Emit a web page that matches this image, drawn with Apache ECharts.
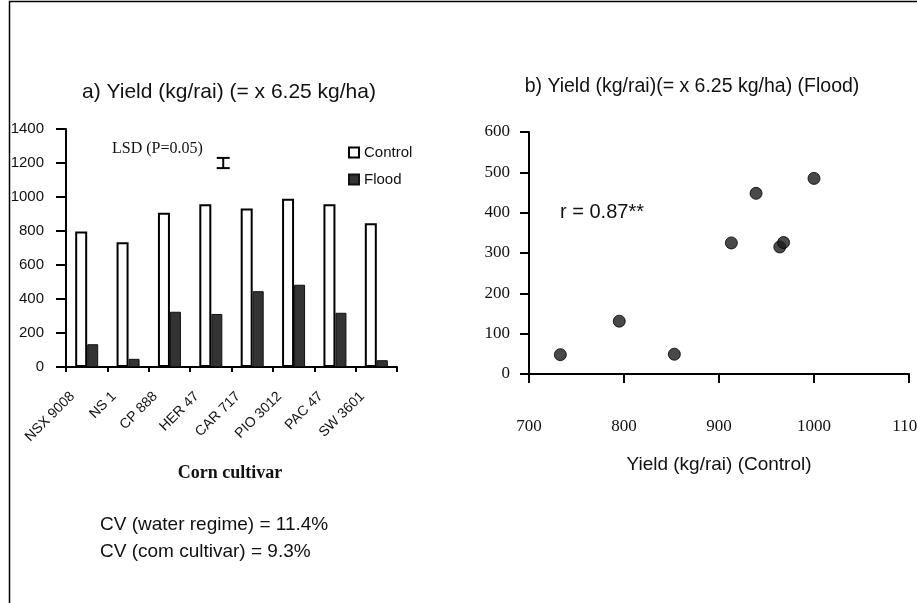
<!DOCTYPE html>
<html>
<head>
<meta charset="utf-8">
<script src="https://cdn.jsdelivr.net/npm/echarts@6/dist/echarts.min.js"></script>
<style>
html,body{margin:0;padding:0;background:#fff;}
#c{width:917px;height:603px;}
</style>
</head>
<body>
<div id="c"></div>
<script>
// ---- data ----
const categories = ['NSX 9008', 'NS 1', 'CP 888', 'HER 47', 'CAR 717', 'PIO 3012', 'PAC 47', 'SW 3601'];
const controlYield = [797, 734, 908, 958, 933, 990, 958, 845];
const floodYield = [134, 48, 325, 312, 446, 484, 319, 40];
const scatterControl = [733, 795, 853, 913, 939, 964, 968, 1000];
const scatterFlood = [48, 131, 49, 325, 448, 315, 326, 485];
const yTicksA = [0, 200, 400, 600, 800, 1000, 1200, 1400];
const yTicksB = [0, 100, 200, 300, 400, 500, 600];
const xTicksB = [700, 800, 900, 1000, 1100];
const lsdValue = 60;      // LSD (P=0.05)
const lsdCenter = 1200;   // level where LSD bar is drawn
const lsdPos = 3.8;       // category-space position of the LSD bar

const SANS = '"Liberation Sans", Arial, sans-serif';
const SERIF = '"Liberation Serif", "Times New Roman", serif';
const plain = v => String(v);

const chart = echarts.init(document.getElementById('c'), null, {renderer: 'canvas'});

const scatterData = scatterControl.map((x, i) => [x, scatterFlood[i]]);

const option = {
  backgroundColor: '#fff',
  animation: false,
  legend: {
    data: ['Control', 'Flood'],
    orient: 'vertical',
    left: 348,
    top: 145,
    padding: 0,
    itemWidth: 10,
    itemHeight: 10,
    itemGap: 12,
    icon: 'rect',
    textStyle: {fontFamily: SANS, fontSize: 15, color: '#111'}
  },
  grid: [
    {left: 66, top: 129, width: 331, height: 238, containLabel: false, outerBoundsMode: 'none'},
    {left: 529, top: 132, width: 380, height: 242, containLabel: false, outerBoundsMode: 'none'}
  ],
  xAxis: [
    {
      type: 'category', gridIndex: 0, data: categories,
      axisLine: {lineStyle: {color: '#000', width: 2}},
      axisTick: {show: true, length: 5, lineStyle: {color: '#000', width: 2}},
      axisLabel: {rotate: 45, fontFamily: SANS, fontSize: 14, color: '#111', margin: 13, padding: [0, 20, 0, 0], interval: 0},
      splitLine: {show: false}
    },
    {
      type: 'value', gridIndex: 0, min: 0, max: 8, show: false
    },
    {
      type: 'value', gridIndex: 1, min: xTicksB[0], max: xTicksB[xTicksB.length - 1], interval: 100,
      axisLine: {onZero: false, lineStyle: {color: '#000', width: 2}},
      axisTick: {show: true, length: 9, lineStyle: {color: '#000', width: 2}},
      axisLabel: {fontFamily: SERIF, fontSize: 17, color: '#111', margin: 44, formatter: plain},
      splitLine: {show: false}
    }
  ],
  yAxis: [
    {
      type: 'value', gridIndex: 0, min: yTicksA[0], max: yTicksA[yTicksA.length - 1], interval: 200,
      axisLine: {show: true, lineStyle: {color: '#000', width: 2}},
      axisTick: {show: true, length: 10, lineStyle: {color: '#000', width: 2}},
      axisLabel: {fontFamily: SANS, fontSize: 15, color: '#111', margin: 22, formatter: plain},
      splitLine: {show: false}
    },
    {
      type: 'value', gridIndex: 1, min: yTicksB[0], max: yTicksB[yTicksB.length - 1], interval: 100,
      axisLine: {show: true, onZero: false, lineStyle: {color: '#000', width: 2}},
      axisTick: {show: true, length: 9, lineStyle: {color: '#000', width: 2}},
      axisLabel: {fontFamily: SERIF, fontSize: 17, color: '#111', margin: 19, formatter: plain},
      splitLine: {show: false}
    }
  ],
  series: [
    {
      name: 'Control', type: 'bar', xAxisIndex: 0, yAxisIndex: 0, data: controlYield,
      barWidth: 12, barGap: '0%',
      itemStyle: {color: '#fff', borderColor: '#000', borderWidth: 2}
    },
    {
      name: 'Flood', type: 'bar', xAxisIndex: 0, yAxisIndex: 0, data: floodYield,
      barWidth: 11, barGap: '0%',
      itemStyle: {color: '#333', borderColor: '#111', borderWidth: 1}
    },
    {
      name: 'LSD', type: 'custom', xAxisIndex: 1, yAxisIndex: 0,
      data: [[lsdPos, lsdCenter, lsdValue]],
      encode: {x: 0, y: 1},
      renderItem: function (params, api) {
        const x = api.value(0), c = api.value(1), h = api.value(2);
        const top = api.coord([x, c + h / 2]);
        const bot = api.coord([x, c - h / 2]);
        const w = 6.5;
        const st = {stroke: '#000', lineWidth: 2};
        return {
          type: 'group',
          children: [
            {type: 'line', shape: {x1: top[0], y1: top[1], x2: bot[0], y2: bot[1]}, style: st},
            {type: 'line', shape: {x1: top[0] - w, y1: top[1], x2: top[0] + w, y2: top[1]}, style: st},
            {type: 'line', shape: {x1: bot[0] - w, y1: bot[1], x2: bot[0] + w, y2: bot[1]}, style: st}
          ]
        };
      }
    },
    {
      name: 'Scatter', type: 'scatter', xAxisIndex: 2, yAxisIndex: 1, data: scatterData,
      symbol: 'circle', symbolSize: 12,
      itemStyle: {color: '#1c1c1c', borderColor: '#000', borderWidth: 1}
    }
  ],
  graphic: [
    {type: 'rect', shape: {x: 9.5, y: 1.5, width: 1000, height: 700}, style: {fill: 'none', stroke: '#000', lineWidth: 1.5}, silent: true},
    {type: 'text', x: 229, y: 92, style: {text: 'a) Yield (kg/rai) (= x 6.25 kg/ha)', font: '21px ' + SANS, fill: '#111', align: 'center', verticalAlign: 'middle'}},
    {type: 'text', x: 692, y: 87, style: {text: 'b) Yield (kg/rai)(= x 6.25 kg/ha) (Flood)', font: '19.5px ' + SANS, fill: '#111', align: 'center', verticalAlign: 'middle'}},
    {type: 'text', x: 112, y: 149, style: {text: 'LSD (P=0.05)', font: '16px ' + SERIF, fill: '#111', align: 'left', verticalAlign: 'middle'}},
    {type: 'text', x: 560, y: 212, style: {text: 'r = 0.87**', font: '20px ' + SANS, fill: '#111', align: 'left', verticalAlign: 'middle'}},
    {type: 'text', x: 230, y: 473, style: {text: 'Corn cultivar', font: 'bold 18px ' + SERIF, fill: '#111', align: 'center', verticalAlign: 'middle'}},
    {type: 'text', x: 719, y: 465, style: {text: 'Yield (kg/rai) (Control)', font: '19px ' + SANS, fill: '#111', align: 'center', verticalAlign: 'middle'}},
    {type: 'text', x: 100, y: 525, style: {text: 'CV (water regime) = 11.4%', font: '19px ' + SANS, fill: '#111', align: 'left', verticalAlign: 'middle'}},
    {type: 'text', x: 100, y: 552, style: {text: 'CV (com cultivar) = 9.3%', font: '19px ' + SANS, fill: '#111', align: 'left', verticalAlign: 'middle'}}
  ]
};

chart.setOption(option);
</script>
</body>
</html>
